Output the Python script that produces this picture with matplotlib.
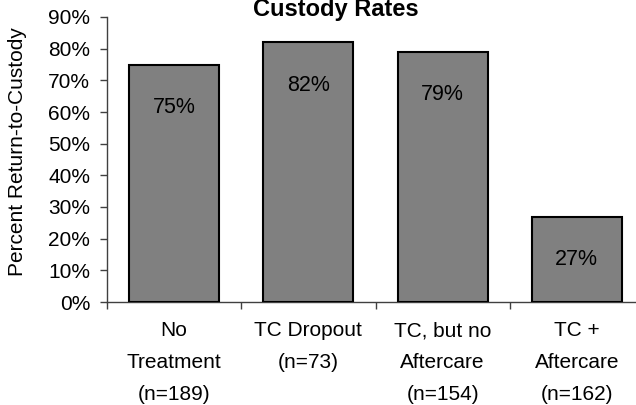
import matplotlib
matplotlib.use("Agg")
import matplotlib.pyplot as plt
from matplotlib.ticker import PercentFormatter

plt.rcParams['font.family'] = ['Liberation Sans', 'DejaVu Sans']

categories = ["No\nTreatment\n(n=189)", "TC Dropout\n(n=73)", "TC, but no\nAftercare\n(n=154)", "TC +\nAftercare\n(n=162)"]
values = [0.75, 0.82, 0.79, 0.27]
value_labels = ["75%", "82%", "79%", "27%"]
yticks = [0.0, 0.1, 0.2, 0.3, 0.4, 0.5, 0.6, 0.7, 0.8, 0.9]
title = "Custody Rates"
ylabel = "Percent Return-to-Custody"

W, H = 636, 405
fig = plt.figure(figsize=(W / 100, H / 100), dpi=100)
ax = fig.add_axes([107 / W, 1 - 302 / H, (644 - 107) / W, (302 - 17) / H])

x = list(range(len(values)))
ax.bar(x, values, width=0.67, color="#808080", edgecolor="black", linewidth=1.5, zorder=3)

for xi, v, lab in zip(x, values, value_labels):
    ax.annotate(lab, xy=(xi, v), xytext=(0, -43), textcoords="offset pixels",
                ha="center", va="center", fontsize=15.5, color="black", zorder=4)

ax.set_xlim(-0.5, len(values) - 0.5)
ax.set_ylim(0, 0.9)
ax.set_yticks(yticks)
ax.yaxis.set_major_formatter(PercentFormatter(1.0, decimals=0))
ax.tick_params(axis="y", direction="out", length=5, width=1, color="#404040", labelsize=15, pad=7)

ax.set_xticks([i - 0.5 for i in x])
ax.set_xticklabels([])
ax.set_xticks(x, minor=True)
ax.set_xticklabels(categories, minor=True, fontsize=15, linespacing=1.85)
ax.tick_params(axis="x", which="major", direction="out", length=5, width=1, color="#404040")
ax.tick_params(axis="x", which="minor", length=0, pad=14)

for s in ["top", "right"]:
    ax.spines[s].set_visible(False)
for s in ["left", "bottom"]:
    ax.spines[s].set_color("#404040")
    ax.spines[s].set_linewidth(1)

fig.text(336 / W, 1 - 16 / H, title, ha="center", va="baseline", fontsize=17, fontweight="bold")
fig.text(18 / W, 1 - 152 / H, ylabel, rotation=90, ha="center", va="center", fontsize=15)

fig.savefig("out.png", dpi=100)
